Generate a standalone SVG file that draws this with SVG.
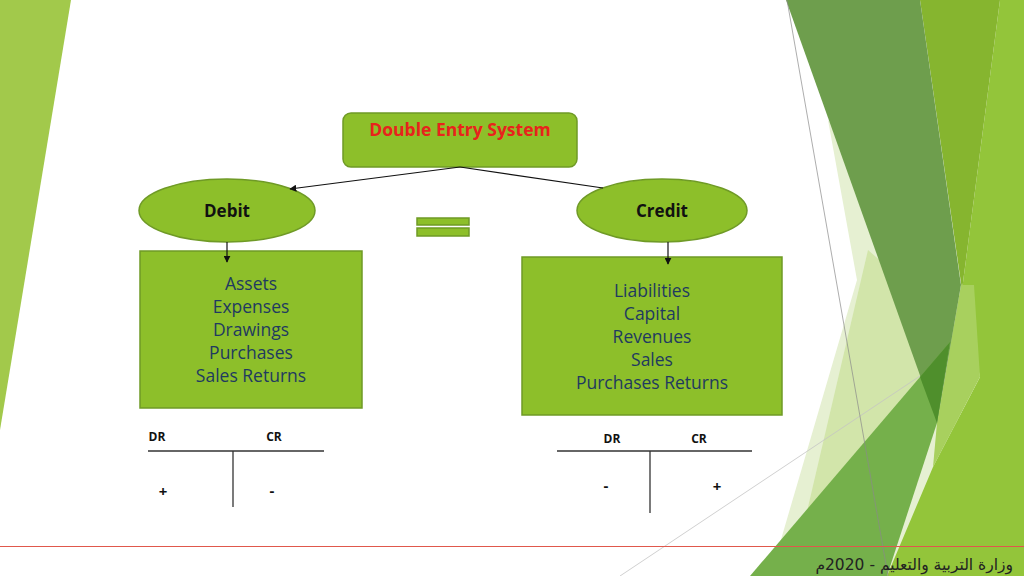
<svg xmlns="http://www.w3.org/2000/svg" width="1024" height="576" viewBox="0 0 1024 576">
<defs>
<style>
.node{fill:#8dbf2a;stroke:#6f9a26;stroke-width:1.5}
.body{font-family:"Open Sans","Noto Sans",sans-serif;font-size:17.5px;fill:#1f3a60;text-anchor:middle}
.lbl{font-family:"Open Sans","Noto Sans",sans-serif;font-weight:bold;font-size:17px;fill:#111;text-anchor:middle}
.small{font-family:"Open Sans","Noto Sans",sans-serif;font-weight:bold;font-size:12px;fill:#111;text-anchor:middle}
.sign{font-family:"Open Sans","Noto Sans",sans-serif;font-weight:bold;font-size:15px;fill:#111;text-anchor:middle}
.conn{stroke:#111;stroke-width:1.2;fill:none}
.tl{stroke:#333;stroke-width:1.3;fill:none}
</style>
<marker id="arr" viewBox="0 0 10 10" refX="9" refY="5" markerWidth="7" markerHeight="7" orient="auto" markerUnits="userSpaceOnUse">
<path d="M0,0 L10,5 L0,10 z" fill="#111"/>
</marker>
</defs>
<rect width="1024" height="576" fill="#ffffff"/>
<g id="decor">
<polygon points="0,0 71,0 0,430" fill="#a2c94b"/>
<polygon points="828,120 960,300 960,576 775,576 775,560 857,280" fill="#e6f0d2"/>
<polygon points="868,250 960,330 900,470 805,520" fill="#d2e5aa"/>
<polygon points="1000,0 1024,0 1024,576 887,576 933,467 980,377 962,290" fill="#93c53a"/>
<polygon points="920,0 1000,0 962,290" fill="#86b52f"/>
<polygon points="961,285 974,285 980,377 933,467 937,423" fill="#a8d05e"/>
<line x1="620" y1="576" x2="920" y2="376" stroke="#c4c4c4" stroke-width="0.8"/>
<polygon points="786,0 920,0 961,285 937,423" fill="#6e9e4d"/>
<polygon points="750,576 920,377 950,342 937,423 887,576" fill="#75b04b"/>
<polygon points="920,377 950,342 937,423" fill="#4f8f2c"/>
<line x1="787" y1="0" x2="888" y2="576" stroke="#8a8a8a" stroke-width="0.7"/>
<line x1="0" y1="546.5" x2="1024" y2="546.5" stroke="#e0584c" stroke-width="1.2"/>
<text x="1013" y="570" style="direction:rtl;unicode-bidi:embed" text-anchor="start" font-family="'DejaVu Sans',sans-serif" font-size="15.5" fill="#222">وزارة التربية والتعليم - 2020م</text>
</g>
<g id="top">
<rect class="node" x="343" y="113" width="234" height="54" rx="8"/>
<text x="460" y="136" font-family="'Open Sans','Noto Sans',sans-serif" font-weight="bold" font-size="17.5" fill="#e8231c" text-anchor="middle">Double Entry System</text>
</g>
<g id="debit">
<ellipse class="node" cx="227" cy="210.5" rx="88" ry="31.5"/>
<text class="lbl" x="227" y="217">Debit</text>
</g>
<g id="credit">
<ellipse class="node" cx="662" cy="210.5" rx="85" ry="31.5"/>
<text class="lbl" x="662" y="217">Credit</text>
</g>
<g id="equals">
<rect class="node" x="417" y="218" width="52" height="7" stroke-width="1"/>
<rect class="node" x="417" y="228" width="52" height="8" stroke-width="1"/>
</g>
<g id="debit-box">
<rect class="node" x="140" y="251" width="222" height="157"/>
<text class="body" x="251" y="290">Assets</text>
<text class="body" x="251" y="313">Expenses</text>
<text class="body" x="251" y="336">Drawings</text>
<text class="body" x="251" y="359">Purchases</text>
<text class="body" x="251" y="382">Sales Returns</text>
</g>
<g id="credit-box">
<rect class="node" x="522" y="257" width="260" height="158"/>
<text class="body" x="652" y="297">Liabilities</text>
<text class="body" x="652" y="320">Capital</text>
<text class="body" x="652" y="343">Revenues</text>
<text class="body" x="652" y="366">Sales</text>
<text class="body" x="652" y="389">Purchases Returns</text>
</g>
<g id="connectors">
<line class="conn" x1="460" y1="167" x2="290" y2="189" marker-end="url(#arr)"/>
<line class="conn" x1="460" y1="167" x2="603" y2="188"/>
<line class="conn" x1="227" y1="242" x2="227" y2="262" marker-end="url(#arr)"/>
<line class="conn" x1="668" y1="242" x2="668" y2="264" marker-end="url(#arr)"/>
</g>
<g id="t-left">
<text class="small" x="157" y="441">DR</text>
<text class="small" x="274" y="441">CR</text>
<line class="tl" x1="148" y1="451" x2="324" y2="451"/>
<line class="tl" x1="233" y1="451" x2="233" y2="507"/>
<text class="sign" x="163" y="497">+</text>
<text class="sign" x="272" y="496">-</text>
</g>
<g id="t-right">
<text class="small" x="612" y="443">DR</text>
<text class="small" x="699" y="443">CR</text>
<line class="tl" x1="557" y1="451" x2="752" y2="451"/>
<line class="tl" x1="650" y1="451" x2="650" y2="513"/>
<text class="sign" x="606" y="491">-</text>
<text class="sign" x="717" y="492">+</text>
</g>
</svg>
